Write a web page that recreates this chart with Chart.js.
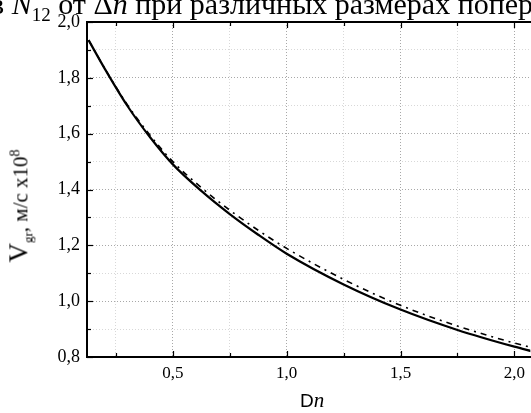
<!DOCTYPE html>
<html>
<head>
<meta charset="utf-8">
<script src="https://cdn.jsdelivr.net/npm/chart.js@4"></script>
<style>
  html, body { margin: 0; padding: 0; background: #fff; }
  #wrap { position: relative; width: 531px; height: 413px; overflow: hidden; }
  #chart { position: absolute; left: 0; top: 0; }
  .serif { font-family: "Liberation Serif", "DejaVu Serif", serif; color: #000; }
  #topTitle { position: absolute; left: -10px; top: -11px; font-size: 30px; line-height: 30px; white-space: nowrap; }
  #yTitle { position: absolute; left: 22px; top: 206px; font-size: 21px; line-height: 24px; white-space: nowrap;
            transform: translate(-50%, -50%) rotate(-90deg); }
  #xTitle { position: absolute; left: 300px; top: 388px; font-size: 19px; white-space: nowrap; }
</style>
</head>
<body>
<div id="wrap">
  <canvas id="chart" width="531" height="413"></canvas>
  <div id="topTitle" class="serif">в <i>N</i><sub style="font-size:19px">12</sub> от Δ<i>n</i> при различных размерах поперечного сечения</div>
  <div id="yTitle" class="serif"><span style="font-size:27px">V</span><sub style="font-size:13px">gr</sub>, м/с x10<sup style="font-size:14px">8</sup></div>
  <div id="xTitle"><span style="font-family:'Liberation Sans',Arial,sans-serif">D</span><i class="serif" style="font-size:21px">n</i></div>
</div>
<script>
const dn = [0.13, 0.2, 0.3, 0.4, 0.5, 0.625, 0.75, 0.875, 1.0, 1.25, 1.5, 1.75, 2.0, 2.08];
const vSolid = [1.935, 1.834, 1.70, 1.587, 1.49, 1.395, 1.312, 1.238, 1.17, 1.06, 0.97, 0.897, 0.837, 0.82];
const vDashDot = [1.935, 1.835, 1.704, 1.594, 1.50, 1.407, 1.326, 1.254, 1.189, 1.078, 0.985, 0.911, 0.85, 0.833];
const xTicks = [0.25, 0.5, 0.75, 1.0, 1.25, 1.5, 1.75, 2.0];
const yTicks = [0.8, 0.9, 1.0, 1.1, 1.2, 1.3, 1.4, 1.5, 1.6, 1.7, 1.8, 1.9, 2.0];

const X_MIN = 0.123, X_MAX = 2.07;

function isMajorX(v) { return Math.abs(v * 2 - Math.round(v * 2)) < 1e-6; }
function isMajorY(v) { return Math.abs(v * 5 - Math.round(v * 5)) < 1e-6; }
function comma(v, d) { return v.toFixed(d).replace(".", ","); }

// inward ticks and frame
const frame = {
  id: "frame",
  afterDatasetsDraw(chart) {
    const { ctx, chartArea: a, scales } = chart;
    ctx.save();
    ctx.strokeStyle = "#000";
    ctx.lineWidth = 1.2;
    xTicks.forEach(v => {
      const x = Math.round(scales.x.getPixelForValue(v)) + 0.5;
      const len = isMajorX(v) ? 6 : 4;
      ctx.beginPath();
      ctx.moveTo(x, a.bottom); ctx.lineTo(x, a.bottom - len);
      ctx.moveTo(x, a.top); ctx.lineTo(x, a.top + len);
      ctx.stroke();
    });
    yTicks.forEach(v => {
      const y = Math.round(scales.y.getPixelForValue(v)) + 0.5;
      const len = isMajorY(v) ? 6 : 4;
      ctx.beginPath();
      ctx.moveTo(a.left, y); ctx.lineTo(a.left + len, y);
      ctx.stroke();
    });
    ctx.lineWidth = 2;
    ctx.beginPath();
    ctx.moveTo(a.right + 5, a.top);
    ctx.lineTo(a.left, a.top);
    ctx.lineTo(a.left, a.bottom);
    ctx.lineTo(a.right + 5, a.bottom);
    ctx.stroke();
    ctx.restore();
  }
};

new Chart(document.getElementById("chart").getContext("2d"), {
  type: "scatter",
  data: {
    datasets: [
      {
        label: "solid",
        data: dn.map((x, i) => ({ x: x, y: vSolid[i] })),
        showLine: true,
        borderColor: "#000",
        borderWidth: 2.2,
        pointRadius: 0,
        cubicInterpolationMode: "monotone",
      },
      {
        label: "dash-dot",
        data: dn.map((x, i) => ({ x: x, y: vDashDot[i] })),
        showLine: true,
        borderColor: "#000",
        borderWidth: 1.6,
        borderDash: [6, 5, 2, 5],
        pointRadius: 0,
        cubicInterpolationMode: "monotone",
      },
    ],
  },
  options: {
    responsive: false,
    animation: false,
    layout: { padding: { left: 0, right: 0, top: 22, bottom: 0 } },
    plugins: { legend: { display: false }, tooltip: { enabled: false } },
    scales: {
      x: {
        type: "linear",
        min: X_MIN,
        max: X_MAX,
        afterBuildTicks(scale) { scale.ticks = xTicks.map(v => ({ value: v })); },
        afterFit(scale) { scale.height = 56; },
        border: { display: false, dash: [1, 2] },
        grid: {
          drawTicks: false,
          lineWidth: 1,
          color: c => (isMajorX(c.tick.value) ? "#a8a8a8" : "#d8d8d8"),
        },
        ticks: {
          padding: 6,
          color: "#000",
          font: { family: "Liberation Serif", size: 17 },
          callback: v => (isMajorX(v) ? comma(v, 1) : ""),
        },
      },
      y: {
        type: "linear",
        min: 0.8,
        max: 2.0,
        afterBuildTicks(scale) { scale.ticks = yTicks.map(v => ({ value: v })); },
        afterFit(scale) { scale.width = 87; },
        border: { display: false, dash: [1, 2] },
        grid: {
          drawTicks: false,
          lineWidth: 1,
          color: c => (isMajorY(c.tick.value) ? "#a8a8a8" : "#d8d8d8"),
        },
        ticks: {
          padding: 7,
          color: "#000",
          font: { family: "Liberation Serif", size: 18 },
          callback: v => (isMajorY(v) ? comma(v, 1) : ""),
        },
      },
    },
  },
  plugins: [frame],
});
</script>
</body>
</html>
